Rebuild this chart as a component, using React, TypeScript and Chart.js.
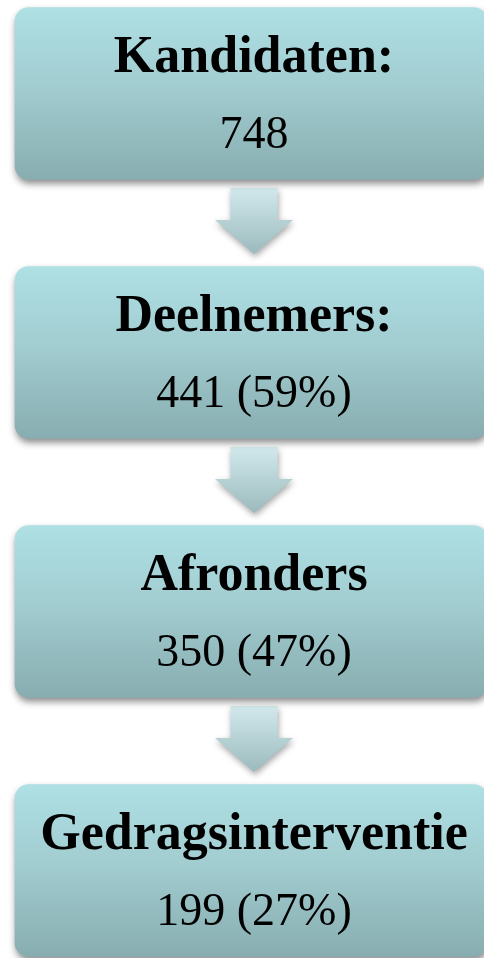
import React, { useEffect, useRef } from "react";
import { Chart, registerables } from "chart.js";

Chart.register(...registerables);

// ---- data ----
const stageLabels: string[] = ["Kandidaten:", "Deelnemers:", "Afronders", "Gedragsinterventie"];
const stageCounts: number[] = [748, 441, 350, 199];
const stagePercents: (number | null)[] = [null, 59, 47, 27];
const stageIndex: number[] = [0, 1, 2, 3];
const arrowPositions: number[] = [0.5, 1.5, 2.5];

// ---- layout constants ----
const W = 484;
const H = 958;
const BOX_LEFT = 15;
const BOX_RIGHT = 487;
const CENTER_X = 254;
const BOX_H = 172;
const STEP_PX = 259;
const FIRST_CENTER = 93.5;

function makeArrow(): HTMLCanvasElement {
  const c = document.createElement("canvas");
  c.width = 110;
  c.height = 96;
  const g = c.getContext("2d")!;
  const cx = 55;
  const cy = 46;
  g.save();
  g.shadowColor = "rgba(0,0,0,0.35)";
  g.shadowBlur = 6;
  g.shadowOffsetX = 1;
  g.shadowOffsetY = 3;
  const grad = g.createLinearGradient(0, cy - 33, 0, cy + 33);
  grad.addColorStop(0, "#d2e9ec");
  grad.addColorStop(1, "#9bbabd");
  g.fillStyle = grad;
  g.beginPath();
  g.moveTo(cx - 23.5, cy - 33);
  g.lineTo(cx + 23.5, cy - 33);
  g.lineTo(cx + 23.5, cy - 1);
  g.lineTo(cx + 39, cy - 1);
  g.lineTo(cx, cy + 33);
  g.lineTo(cx - 39, cy - 1);
  g.lineTo(cx - 23.5, cy - 1);
  g.closePath();
  g.fill();
  g.restore();
  return c;
}

const shadowPlugin = {
  id: "boxShadow",
  beforeDatasetDraw(chart: any, args: any) {
    if (args.index !== 0) return;
    const ctx = chart.ctx;
    ctx.save();
    ctx.shadowColor = "rgba(0,0,0,0.45)";
    ctx.shadowBlur = 7;
    ctx.shadowOffsetX = 1;
    ctx.shadowOffsetY = 4;
  },
  afterDatasetDraw(chart: any, args: any) {
    if (args.index !== 0) return;
    chart.ctx.restore();
  },
};

const textPlugin = {
  id: "boxText",
  afterDatasetsDraw(chart: any) {
    const ctx = chart.ctx;
    const xs = chart.scales.x;
    const ys = chart.scales.y;
    const x = xs.getPixelForValue(CENTER_X);
    ctx.save();
    ctx.fillStyle = "#000";
    ctx.textAlign = "center";
    ctx.textBaseline = "alphabetic";
    stageIndex.forEach((i) => {
      const y = ys.getPixelForValue(i);
      ctx.font = "bold 52px 'Liberation Serif', serif";
      ctx.fillText(stageLabels[i], x, y - 22);
      const p = stagePercents[i];
      const val = p === null ? `${stageCounts[i]}` : `${stageCounts[i]} (${p}%)`;
      ctx.font = "46px 'Liberation Serif', serif";
      ctx.fillText(val, x, y + 54);
    });
    ctx.restore();
  },
};

export default function App() {
  const ref = useRef<HTMLCanvasElement | null>(null);
  useEffect(() => {
    if (!ref.current) return;
    const arrow = makeArrow();
    const yMin = -FIRST_CENTER / STEP_PX;
    const yMax = (H - FIRST_CENTER) / STEP_PX;
    const chart = new Chart(ref.current, {
      type: "bar",
      data: {
        datasets: [
          {
            type: "bar",
            data: stageIndex.map((i) => ({ y: i, x: [BOX_LEFT, BOX_RIGHT] })) as any,
            barThickness: BOX_H,
            borderRadius: 14,
            borderSkipped: false,
            borderWidth: 0,
            clip: false as any,
            backgroundColor: (c: any) => {
              const ch = c.chart;
              const ys = ch.scales?.y;
              if (!ys || !c.raw || typeof c.raw.y !== "number") return "#9cc6ca";
              const cy = ys.getPixelForValue(c.raw.y);
              if (!isFinite(cy)) return "#9cc6ca";
              const g = ch.ctx.createLinearGradient(0, cy - BOX_H / 2, 0, cy + BOX_H / 2);
              g.addColorStop(0, "#aee0e4");
              g.addColorStop(0.45, "#a2cdd1");
              g.addColorStop(1, "#88adb0");
              return g;
            },
          },
          {
            type: "scatter",
            data: arrowPositions.map((p) => ({ x: CENTER_X, y: p })) as any,
            pointStyle: arrow as any,
            pointRadius: 40,
            clip: false as any,
          },
        ],
      },
      options: {
        indexAxis: "y",
        animation: false,
        responsive: false,
        events: [],
        layout: { padding: 0, autoPadding: false },
        plugins: { legend: { display: false }, tooltip: { enabled: false } },
        scales: {
          x: { type: "linear", min: 0, max: W, display: false, offset: false },
          y: { type: "linear", min: yMin, max: yMax, reverse: true, display: false, offset: false, grace: 0 },
        },
      } as any,
      plugins: [shadowPlugin, textPlugin],
    });
    return () => chart.destroy();
  }, []);
  return (
    <div style={{ position: "fixed", left: 0, top: 0, width: W, height: H, background: "#fff" }}>
      <canvas ref={ref} width={W} height={H} style={{ display: "block" }} />
    </div>
  );
}
